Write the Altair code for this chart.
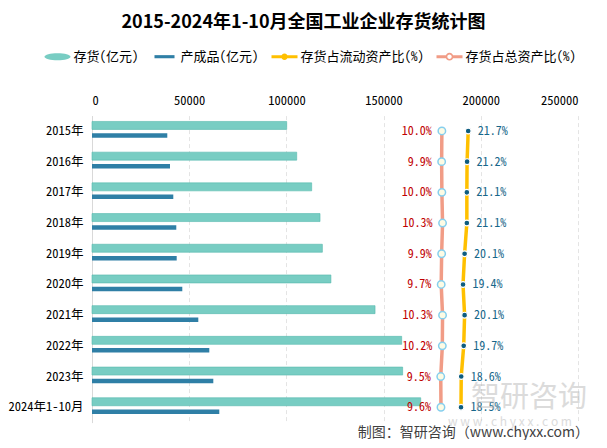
import altair as alt
import pandas as pd

# ---------------- data ----------------
years = ["2015年", "2016年", "2017年", "2018年", "2019年", "2020年",
         "2021年", "2022年", "2023年", "2024年1-10月"]
inventory = [100150, 105300, 113000, 117300, 118500, 122900, 145600, 159300, 159800, 169100]
finished_goods = [38730, 40120, 41820, 43360, 43570, 46450, 54680, 60340, 62400, 65480]
ratio_current = [21.7, 21.2, 21.1, 21.1, 20.1, 19.4, 20.1, 19.7, 18.6, 18.5]
ratio_total = [10.0, 9.9, 10.0, 10.3, 9.9, 9.7, 10.3, 10.2, 9.5, 9.6]
series_names = ["存货(亿元)", "产成品(亿元)", "存货占流动资产比(%)", "存货占总资产比(%)"]
x_ticks = [0, 50000, 100000, 150000, 200000, 250000]
title_text = "2015-2024年1-10月全国工业企业存货统计图"
source_text = "制图：智研咨询（www.chyxx.com）"
watermark_cn = "智研咨询"
watermark_en = "w w w . c h y x x . c o m"

# ---------------- styles ----------------
FONT = "'Noto Sans Mono CJK SC', 'Noto Sans CJK SC', sans-serif"
SANS = "'Noto Sans CJK SC', sans-serif"
C_INV = "#78cdc3"
C_FG = "#2f7fa6"
C_CUR = "#ffc000"
C_TOT = "#f19c86"
W, H = 486, 307

df = pd.DataFrame({
    "year": years,
    "idx": list(range(len(years))),
    "inv": inventory,
    "fg": finished_goods,
    "cur": ratio_current,
    "tot": ratio_total,
})

y_enc = alt.Y("year:N", sort=years,
              scale=alt.Scale(paddingInner=0.2, paddingOuter=0.1),
              axis=alt.Axis(title=None, labelFont=FONT, labelFontSize=12.5,
                            labelColor="#000000", labelPadding=9, ticks=False,
                            domainColor="#d9d9d9", grid=False))


def x_bar(field):
    return alt.X(f"{field}:Q", scale=alt.Scale(domain=[0, 250000]),
                 axis=alt.Axis(orient="top", values=x_ticks, format="d", title=None,
                               ticks=False, domain=False, labelFont=FONT,
                               labelFontSize=12.5, labelColor="#000000",
                               labelPadding=8, grid=True, gridColor="#e4e4e4",
                               gridDash=[4, 3]))


pscale = alt.Scale(domain=[-145.5, 70.5])


def x_pct(field):
    return alt.X(f"{field}:Q", scale=pscale, axis=None)


inv_bar = alt.Chart(df).mark_bar(size=8, yOffset=-5.5, color=C_INV,
                                 stroke="#56b9ad", strokeWidth=0.6).encode(
    x=x_bar("inv"), y=y_enc)
fg_bar = alt.Chart(df).mark_bar(size=4.5, yOffset=4.5, color=C_FG).encode(
    x=x_bar("fg"), y=y_enc)

# legend (helper layer, drawn outside the plot and clipped away)
legend_paths = [
    "M-1,0A1,0.27,0,1,1,1,0A1,0.27,0,1,1,-1,0Z",
    "M-0.77,-0.12H0.77V0.12H-0.77Z",
    "M-1,-0.12H1V0.12H-1Z M-0.25,0A0.25,0.25,0,1,1,0.25,0A0.25,0.25,0,1,1,-0.25,0Z",
    "M-1,-0.12H-0.28V0.12H-1Z M0.28,-0.12H1V0.12H0.28Z "
    "M-0.3,0A0.3,0.3,0,1,1,0.3,0A0.3,0.3,0,1,1,-0.3,0Z "
    "M-0.17,0A0.17,0.17,0,1,0,0.17,0A0.17,0.17,0,1,0,-0.17,0Z",
]
leg = alt.Legend(title=None, orient="none", legendX=-47.5, legendY=-71.9,
                 direction="horizontal", columns=4, columnPadding=12,
                 labelOffset=3, symbolSize=676, symbolStrokeWidth=0,
                 labelFont=FONT, labelFontSize=13, labelColor="#000000",
                 padding=0)
legend_layer = alt.Chart(pd.DataFrame({"series": series_names})).mark_point(
    filled=True, clip=True, opacity=1).encode(
    x=alt.value(-3000), y=alt.value(-3000),
    color=alt.Color("series:N", scale=alt.Scale(domain=series_names,
                    range=[C_INV, C_FG, C_CUR, C_TOT]), legend=leg),
    shape=alt.Shape("series:N", scale=alt.Scale(domain=series_names,
                    range=legend_paths), legend=leg),
)

bars = alt.layer(inv_bar, fg_bar, legend_layer)

# percentage series on a hidden secondary axis
base = alt.Chart(df).transform_calculate(
    lab_cur="format(datum.cur, '.1f') + '%'",
    lab_tot="format(datum.tot, '.1f') + '%'",
)
tot_line = base.mark_line(color=C_TOT, strokeWidth=3.5).encode(
    x=x_pct("tot"), y=y_enc, order="idx:Q")
cur_line = base.mark_line(color=C_CUR, strokeWidth=3.5).encode(
    x=x_pct("cur"), y=y_enc, order="idx:Q")
tot_pts = base.mark_point(shape="circle", filled=True, fill="#fdfbe4",
                          stroke="#86cfee", strokeWidth=1.5, size=55,
                          opacity=1).encode(x=x_pct("tot"), y=y_enc)
cur_pts = base.mark_point(shape="circle", filled=True, fill="#0d5c80",
                          stroke="#ffffff", strokeWidth=1.2, size=34,
                          opacity=1).encode(x=x_pct("cur"), y=y_enc)
tot_txt = base.mark_text(align="right", baseline="middle", dx=-10, font=FONT,
                         fontSize=12, color="#c00000").encode(
    x=x_pct("tot"), y=y_enc, text="lab_tot:N")
cur_txt = base.mark_text(align="left", baseline="middle", dx=9.5, font=FONT,
                         fontSize=12, color="#17678a").encode(
    x=x_pct("cur"), y=y_enc, text="lab_cur:N")

pcts = alt.layer(tot_line, cur_line, tot_pts, cur_pts, tot_txt, cur_txt)

# watermark and source
wm1 = alt.Chart(pd.DataFrame({"t": [watermark_cn]})).mark_text(
    align="center", baseline="middle", font=SANS, fontSize=29,
    color="#b8b8b8", opacity=0.5).encode(
    x=alt.value(437), y=alt.value(282), text="t:N")
wm2 = alt.Chart(pd.DataFrame({"t": [watermark_en]})).mark_text(
    align="center", baseline="middle", font=SANS, fontSize=12,
    color="#c4c4c4", opacity=0.6).encode(
    x=alt.value(418), y=alt.value(306), text="t:N")
src = alt.Chart(pd.DataFrame({"t": [source_text]})).mark_text(
    align="right", baseline="middle", font=SANS, fontSize=14,
    color="#404040").encode(
    x=alt.value(497), y=alt.value(317), text="t:N")

chart = alt.layer(bars, pcts, wm1, wm2, src).resolve_scale(
    x="independent"
).properties(
    width=W, height=H,
    title=alt.TitleParams(title_text, font=SANS, fontSize=18, fontWeight="bold",
                          color="#000000", anchor="middle", frame="group",
                          dx=-31.5, offset=12),
    autosize=alt.AutoSizeParams(type="none"),
    padding={"left": 84, "top": 107.6, "right": 21, "bottom": 17.4},
).configure_view(stroke=None)

chart.save("out.html", embed_options={"renderer": "svg", "actions": False})
